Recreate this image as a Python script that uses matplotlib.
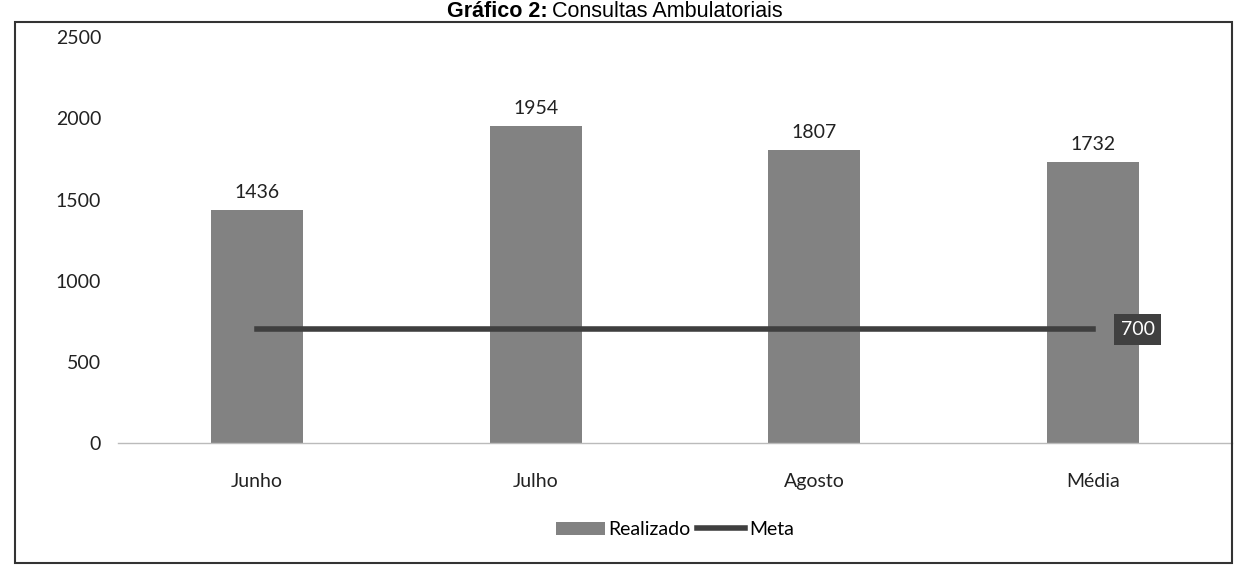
import matplotlib.pyplot as plt
from matplotlib.patches import Rectangle
import numpy as np

# data
categorias = ["Junho", "Julho", "Agosto", "Média"]
realizado = [1436, 1954, 1807, 1732]
meta = [700, 700, 700, 700]
yticks = [0, 500, 1000, 1500, 2000, 2500]

plt.rcParams['font.family'] = ['Lato', 'DejaVu Sans']

fig = plt.figure(figsize=(12.41, 5.73), dpi=100)
ax = fig.add_axes([0.095, 0.227, 0.898, 0.708])

x = np.arange(len(categorias))
ax.bar(x, realizado, width=0.33, color='#828282', label='Realizado', zorder=2)
ax.plot(x, meta, color='#3f3f3f', linewidth=4, label='Meta', zorder=3)

for xi, v in zip(x, realizado):
    ax.text(xi, v + 55, str(v), ha='center', va='bottom', fontsize=14, color='#222222')

# rotulo da meta no ultimo ponto
ax.text(x[-1] + 0.16, meta[-1], str(meta[-1]), ha='center', va='center', fontsize=14,
        color='white', bbox=dict(boxstyle='square,pad=0.35', facecolor='#404040', edgecolor='none'),
        zorder=4)

ax.set_xlim(-0.5, len(categorias) - 0.5)
ax.set_ylim(0, 2500)
ax.set_yticks(yticks)
ax.set_xticks(x)
ax.set_xticklabels(categorias)
ax.tick_params(axis='both', length=0, labelsize=14, colors='#222222')
ax.tick_params(axis='y', pad=12)
ax.tick_params(axis='x', pad=22)
for s in ['top', 'right', 'left']:
    ax.spines[s].set_visible(False)
ax.spines['bottom'].set_color('#bbbbbb')
ax.spines['bottom'].set_linewidth(1)

handles, labels = ax.get_legend_handles_labels()
order = [labels.index('Realizado'), labels.index('Meta')]
ax.legend([handles[i] for i in order], [labels[i] for i in order],
          loc='upper center', bbox_to_anchor=(0.5, -0.15), ncol=2, frameon=False,
          fontsize=14, handlelength=2.5, columnspacing=0.3, handletextpad=0.2)

# moldura
fig.patches.append(Rectangle((15 / 1241, 1 - 563 / 573), 1217 / 1241, 541 / 573,
                             transform=fig.transFigure, fill=False, edgecolor='#333333',
                             linewidth=1.5))

# titulo no topo
ty = 1 - 1 / 573
fig.text(0.441, ty, "Gráfico 2:", ha='right', va='top', fontsize=15.5, fontweight='bold',
         family='Liberation Sans')
fig.text(0.445, ty, "Consultas Ambulatoriais", ha='left', va='top', fontsize=15.5,
         family='Liberation Sans')

fig.savefig('out.png', dpi=100)
